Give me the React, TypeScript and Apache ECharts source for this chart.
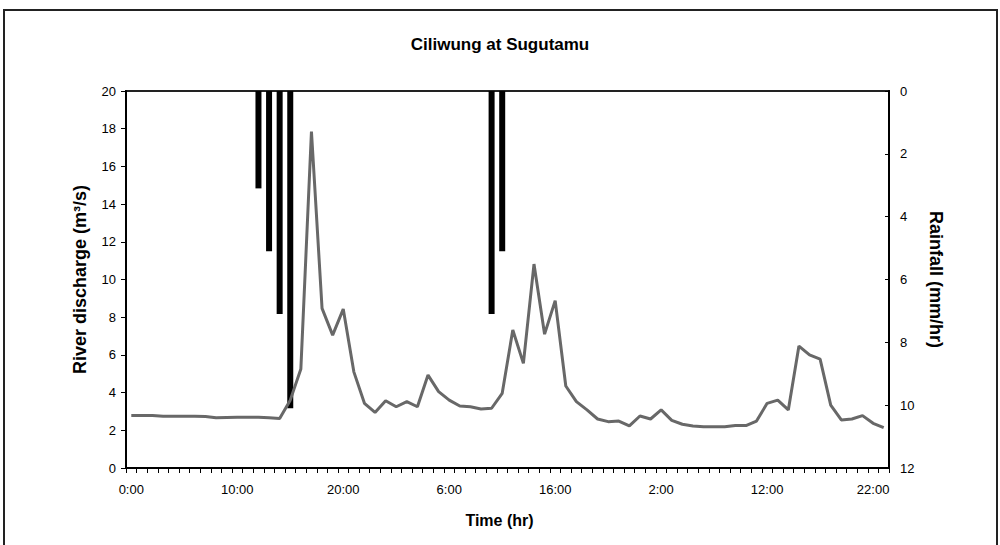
import React, { useEffect, useRef } from "react";
import * as echarts from "echarts";

// 72 hourly categories, starting at 0:00 on day 1
const hourLabels: string[] = [
  "0:00","1:00","2:00","3:00","4:00","5:00","6:00","7:00","8:00","9:00","10:00","11:00",
  "12:00","13:00","14:00","15:00","16:00","17:00","18:00","19:00","20:00","21:00","22:00","23:00",
  "0:00","1:00","2:00","3:00","4:00","5:00","6:00","7:00","8:00","9:00","10:00","11:00",
  "12:00","13:00","14:00","15:00","16:00","17:00","18:00","19:00","20:00","21:00","22:00","23:00",
  "0:00","1:00","2:00","3:00","4:00","5:00","6:00","7:00","8:00","9:00","10:00","11:00",
  "12:00","13:00","14:00","15:00","16:00","17:00","18:00","19:00","20:00","21:00","22:00","23:00",
];

// River discharge (m3/s)
const discharge: number[] = [
  2.78, 2.78, 2.79, 2.75, 2.75, 2.75, 2.75, 2.73, 2.66, 2.68, 2.69, 2.69,
  2.69, 2.67, 2.62, 3.6, 5.25, 17.85, 8.47, 7.05, 8.43, 5.1, 3.43, 2.95,
  3.57, 3.25, 3.52, 3.25, 4.93, 4.05, 3.6, 3.29, 3.25, 3.13, 3.17, 3.96,
  7.32, 5.55, 10.82, 7.1, 8.88, 4.35, 3.52, 3.08, 2.6, 2.46, 2.49, 2.23,
  2.76, 2.6, 3.08, 2.53, 2.32, 2.23, 2.19, 2.19, 2.19, 2.25, 2.25, 2.49,
  3.43, 3.6, 3.08, 6.47, 6.0, 5.78, 3.34, 2.55, 2.6, 2.78, 2.37, 2.14,
];

// Rainfall (mm/hr)
const rainfall: number[] = [
  0, 0, 0, 0, 0, 0, 0, 0, 0, 0, 0, 0,
  3.1, 5.1, 7.1, 10.1, 0, 0, 0, 0, 0, 0, 0, 0,
  0, 0, 0, 0, 0, 0, 0, 0, 0, 0, 7.1, 5.1,
  0, 0, 0, 0, 0, 0, 0, 0, 0, 0, 0, 0,
  0, 0, 0, 0, 0, 0, 0, 0, 0, 0, 0, 0,
  0, 0, 0, 0, 0, 0, 0, 0, 0, 0, 0, 0,
];

const FONT = "'Liberation Sans', Arial, sans-serif";

export default function App() {
  const ref = useRef<HTMLDivElement>(null);

  useEffect(() => {
    document.body.style.margin = "0";
    if (!ref.current) return;
    const chart = echarts.init(ref.current, undefined, { renderer: "svg" });
    chart.setOption({
      animation: false,
      backgroundColor: "#ffffff",
      textStyle: { fontFamily: FONT },
      title: {
        text: "Ciliwung at Sugutamu",
        left: "center",
        top: 31,
        textStyle: { fontFamily: FONT, fontSize: 17, fontWeight: "bold", color: "#000" },
      },
      graphic: [
        {
          type: "rect",
          shape: { x: 4, y: 10, width: 993, height: 600 },
          style: { fill: "none", stroke: "#222", lineWidth: 2 },
          silent: true,
        },
      ],
      grid: {
        left: 126,
        right: 111,
        top: 91,
        bottom: 77,
        show: true,
        borderColor: "#222",
        borderWidth: 2,
        backgroundColor: "transparent",
      },
      xAxis: {
        type: "category",
        data: hourLabels,
        boundaryGap: true,
        name: "Time (hr)",
        nameLocation: "middle",
        nameGap: 44,
        nameTextStyle: {
          fontFamily: FONT,
          fontSize: 16,
          fontWeight: "bold",
          color: "#000",
          padding: [0, 16, 0, 0],
        },
        axisLine: { show: true, lineStyle: { color: "#000", width: 2 } },
        axisTick: { show: true, interval: 0, length: 5, lineStyle: { color: "#000", width: 1 } },
        axisLabel: { interval: 9, margin: 15, fontSize: 13, color: "#000", fontFamily: FONT },
        splitLine: { show: false },
      },
      yAxis: [
        {
          type: "value",
          min: 0,
          max: 20,
          interval: 2,
          position: "left",
          name: "River discharge (m³/s)",
          nameLocation: "middle",
          nameGap: 37,
          nameTextStyle: { fontFamily: FONT, fontSize: 18, fontWeight: "bold", color: "#000" },
          axisLine: { show: true, lineStyle: { color: "#000", width: 2 } },
          axisTick: { show: true, length: 5, lineStyle: { color: "#000", width: 1 } },
          axisLabel: { margin: 10, fontSize: 13, color: "#000", fontFamily: FONT },
          splitLine: { show: false },
        },
        {
          type: "value",
          min: 0,
          max: 12,
          interval: 2,
          inverse: true,
          position: "right",
          name: "Rainfall (mm/hr)",
          nameLocation: "middle",
          nameGap: 38,
          nameRotate: -90,
          nameTextStyle: { fontFamily: FONT, fontSize: 18, fontWeight: "bold", color: "#000" },
          axisLine: { show: true, lineStyle: { color: "#000", width: 2 } },
          axisTick: { show: true, inside: true, length: 4, lineStyle: { color: "#000", width: 1 } },
          axisLabel: { margin: 11, fontSize: 13, color: "#000", fontFamily: FONT },
          splitLine: { show: false },
        },
      ],
      series: [
        {
          name: "River discharge",
          type: "line",
          data: discharge,
          yAxisIndex: 0,
          symbol: "none",
          lineStyle: { color: "#686868", width: 3 },
        },
        {
          name: "Rainfall",
          type: "bar",
          data: rainfall,
          yAxisIndex: 1,
          barWidth: 6,
          itemStyle: { color: "#000" },
        },
      ],
    });
    return () => chart.dispose();
  }, []);

  return (
    <div
      ref={ref}
      style={{ position: "absolute", left: 0, top: 0, width: 1000, height: 545 }}
    />
  );
}
